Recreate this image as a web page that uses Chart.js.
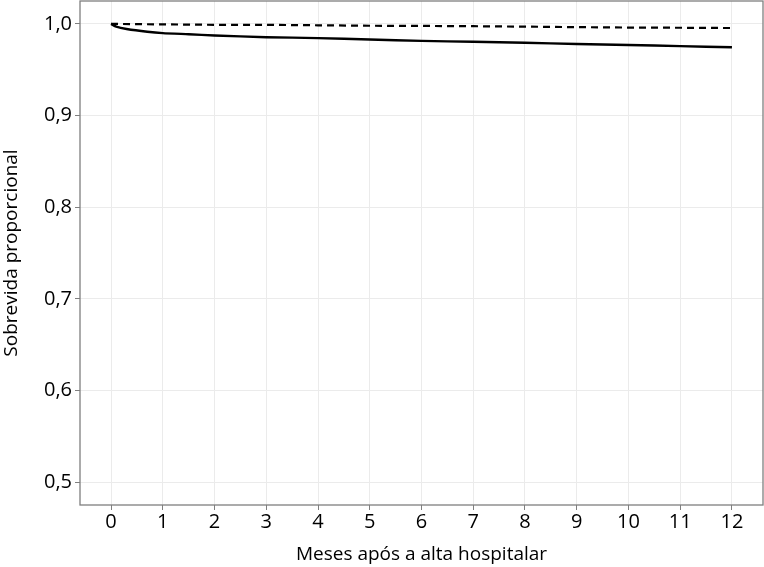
<!DOCTYPE html>
<html>
<head>
<meta charset="utf-8">
<script src="https://cdn.jsdelivr.net/npm/chart.js@4/dist/chart.umd.min.js"></script>
<style>
  html, body { margin: 0; padding: 0; background: #fff; }
  #wrap { width: 764px; height: 567px; position: relative; }
</style>
</head>
<body>
<div id="wrap"><canvas id="mycanvas"></canvas></div>
<script>
// survival curves
var solidMonths = [0, 0.1, 0.3, 0.7, 1, 1.5, 2, 3, 4, 5, 6, 7, 8, 9, 10, 11, 12];
var solidSurv   = [1.0, 0.997, 0.9945, 0.9915, 0.990, 0.9887, 0.9873, 0.9855, 0.9845, 0.983, 0.9815, 0.9805, 0.9795, 0.978, 0.977, 0.9758, 0.9745];

var dashMonths = [0, 1, 2, 3, 4, 5, 6, 7, 8, 9, 10, 11, 12];
var dashSurv   = [1.0, 0.9995, 0.999, 0.999, 0.9985, 0.998, 0.9978, 0.9975, 0.997, 0.9965, 0.996, 0.9958, 0.9955];

var xTicks = [0, 1, 2, 3, 4, 5, 6, 7, 8, 9, 10, 11, 12];
var yTicks = [0.5, 0.6, 0.7, 0.8, 0.9, 1.0];

function toPoints(xs, ys) {
  var pts = [];
  for (var i in xs) {
    pts.push({ x: xs[i], y: ys[i] });
  }
  return pts;
}

// gray frame around the panel (ggplot style)
var panelBorder = {
  id: 'panelBorder',
  afterDatasetsDraw: function(chart) {
    var a = chart.chartArea;
    var ctx = chart.ctx;
    ctx.save();
    ctx.strokeStyle = '#7f7f7f';
    ctx.lineWidth = 1.3;
    ctx.strokeRect(a.left, a.top, a.right - a.left, a.bottom - a.top);
    ctx.restore();
  }
};

var tickFont = { family: 'Open Sans', size: 20 };
var titleFont = { family: 'Open Sans', size: 19 };

var ctx = document.getElementById('mycanvas');
var chart = new Chart(ctx, {
  type: 'scatter',
  data: {
    datasets: [{
      label: 'solid',
      data: toPoints(solidMonths, solidSurv),
      showLine: true,
      borderColor: '#000',
      borderWidth: 2.4,
      pointRadius: 0,
      tension: 0.2
    }, {
      label: 'dashed',
      data: toPoints(dashMonths, dashSurv),
      showLine: true,
      borderColor: '#000',
      borderWidth: 2.2,
      borderDash: [7, 5],
      pointRadius: 0
    }]
  },
  options: {
    responsive: true,
    maintainAspectRatio: false,
    animation: false,
    layout: { padding: { top: 1, right: 1, left: 0, bottom: 0 } },
    plugins: {
      legend: { display: false },
      tooltip: { enabled: false }
    },
    scales: {
      x: {
        type: 'linear',
        min: -0.6,
        max: 12.6,
        afterBuildTicks: function(axis) {
          axis.ticks = xTicks.map(function(v) { return { value: v }; });
        },
        afterFit: function(scale) {
          scale.height = 62;
          scale.paddingLeft = 0;
          scale.paddingRight = 0;
        },
        grid: { color: '#ebebeb', lineWidth: 1, tickLength: 5, tickColor: '#7f7f7f' },
        border: { display: false },
        ticks: {
          font: tickFont,
          color: '#000',
          padding: 0,
          maxRotation: 0,
          callback: function(v) { return String(v); }
        },
        title: {
          display: true,
          text: 'Meses após a alta hospitalar',
          font: titleFont,
          color: '#000',
          padding: { top: 0, bottom: 1 }
        }
      },
      y: {
        min: 0.475,
        max: 1.025,
        afterBuildTicks: function(axis) {
          axis.ticks = yTicks.map(function(v) { return { value: v }; });
        },
        afterFit: function(scale) {
          scale.width = 80;
          scale.paddingTop = 0;
          scale.paddingBottom = 0;
        },
        grid: { color: '#ebebeb', lineWidth: 1, tickLength: 5, tickColor: '#7f7f7f' },
        border: { display: false },
        ticks: {
          font: tickFont,
          color: '#000',
          padding: 3,
          callback: function(v) { return v.toFixed(1).replace('.', ','); }
        },
        title: {
          display: true,
          text: 'Sobrevida proporcional',
          font: titleFont,
          color: '#000',
          padding: { top: 0, bottom: 0 }
        }
      }
    }
  },
  plugins: [panelBorder]
});
</script>
</body>
</html>
